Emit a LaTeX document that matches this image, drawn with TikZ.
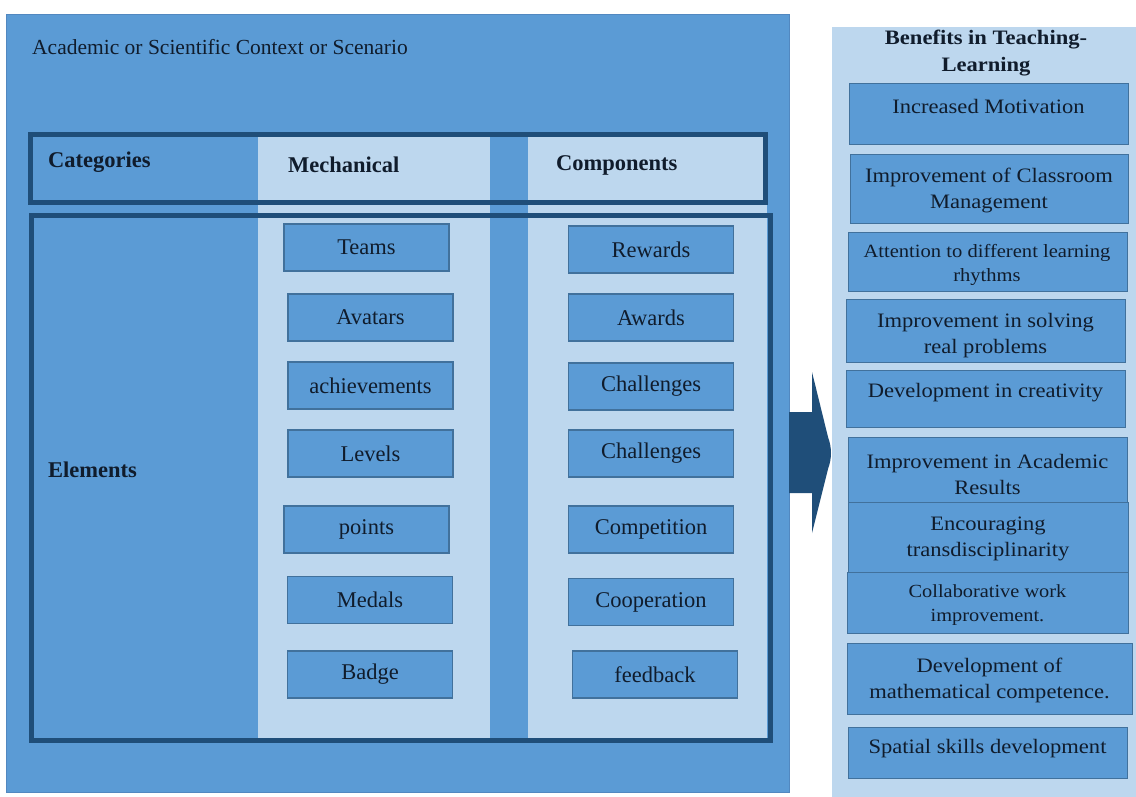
\documentclass[tikz,border=0pt]{standalone}
\usepackage{fontspec}
\setmainfont{Liberation Serif}
\newfontfamily\rfont{Liberation Serif}[FakeStretch=1.1]
\definecolor{mid}{HTML}{5B9BD5}
\definecolor{light}{HTML}{BDD7EE}
\definecolor{dark}{HTML}{1F4E79}
\definecolor{bbord}{HTML}{41719C}
\definecolor{mainbord}{HTML}{5288C0}
\definecolor{txt}{HTML}{101C2C}
\begin{document}
\begin{tikzpicture}[x=1pt,y=-1pt,
  lbox/.style={draw=bbord, line width=1.2pt, fill=mid, minimum width=165, minimum height=47, inner sep=0pt, text=txt, font=\fontsize{22.5}{26}\selectfont},
  rbox/.style={draw=bbord, line width=1.2pt, fill=mid, anchor=north west, inner sep=0pt},
  rtext/.style={text=txt, align=center, inner sep=0pt, font=\rfont\fontsize{20.5}{26}\selectfont},
  head/.style={text=txt, anchor=west, inner sep=0pt, font=\bfseries\fontsize{22.5}{26}\selectfont}]
\useasboundingbox (0,0) rectangle (1136,797);
\fill[white] (0,0) rectangle (1136,797);
% main context box
\node[draw=mainbord, fill=mid, anchor=north west, minimum width=783, minimum height=778, inner sep=0pt] (main) at (6,14) {};
\node[text=txt, anchor=west, inner sep=0pt, font=\fontsize{21.5}{24}\selectfont] (title) at (32,47) {Academic or Scientific Context or Scenario};
% light columns
\fill[light] (258,134) rectangle (490,739);
\fill[light] (528,134) rectangle (767,739);
% header and elements frames
\draw[dark, line width=5pt] (30.5,134.5) rectangle (765.5,202.5);
\draw[dark, line width=5pt] (31,215.5) rectangle (770,740);
\node[head] (cat) at (48,162) {Categories};
\node[head] (mech) at (288,165) {Mechanical};
\node[head] (comp) at (556,165) {Components};
\node[head] (elem) at (48,470) {Elements};
% mechanical boxes
\node[lbox] (teams) at (366.5,247.5) {Teams};
\node[lbox] (avatars) at (370.5,317.5) {Avatars};
\node[lbox] (achiev) at (370.5,385.5) {achievements};
\node[lbox] (levels) at (370.5,453.5) {Levels};
\node[lbox] (points) at (366.5,529.5) {points};
\node[lbox] (medals) at (370,600) {Medals};
\node[lbox] (badge) at (370,674.5) {Badge};
% component boxes
\node[lbox] (rewards) at (651,249.5) {Rewards};
\node[lbox] (awards) at (651,317.5) {Awards};
\node[lbox] (chal1) at (651,386.5) {Challenges};
\node[lbox] (chal2) at (651,453.5) {Challenges};
\node[lbox] (compet) at (651,529.5) {Competition};
\node[lbox] (coop) at (651,602) {Cooperation};
\node[lbox] (feedb) at (655,674.5) {feedback};
% right panel
\node[fill=light, anchor=north west, minimum width=304, minimum height=770, inner sep=0pt] (panel) at (832,27) {};
\node[rtext, font=\rfont\bfseries\fontsize{20.5}{27}\selectfont] (ptitle) at (986,53) {Benefits in Teaching-\\Learning};
\node[rbox, minimum width=279, minimum height=61] (b1) at (849,83) {};
\node[rtext] (b1t) at (988.5,106) {Increased Motivation};
\node[rbox, minimum width=278, minimum height=69] (b2) at (850,154) {};
\node[rtext] (b2t) at (989,190) {Improvement of Classroom\\Management};
\node[rbox, minimum width=279, minimum height=59] (b3) at (848,232) {};
\node[rtext, font=\rfont\fontsize{18.7}{24}\selectfont] (b3t) at (987,265) {Attention to different learning\\rhythms};
\node[rbox, minimum width=279, minimum height=63] (b4) at (846,299) {};
\node[rtext] (b4t) at (985.5,336) {Improvement in solving\\real problems};
\node[rbox, minimum width=279, minimum height=57] (b5) at (846,370) {};
\node[rtext] (b5t) at (985.5,393) {Development in creativity};
\node[rbox, minimum width=279, minimum height=65] (b6) at (848,437) {};
\node[rtext] (b6t) at (987.5,474) {Improvement in Academic\\Results};
\node[rbox, minimum width=280, minimum height=70] (b7) at (848,502) {};
\node[rtext] (b7t) at (988,539) {Encouraging\\transdisciplinarity};
\node[rbox, minimum width=281, minimum height=61] (b8) at (847,572) {};
\node[rtext, font=\rfont\fontsize{18.5}{24}\selectfont] (b8t) at (987.5,605) {Collaborative work\\improvement.};
\node[rbox, minimum width=285, minimum height=71] (b9) at (847,643) {};
\node[rtext] (b9t) at (989.5,680) {Development of\\mathematical competence.};
\node[rbox, minimum width=279, minimum height=51] (b10) at (848,727) {};
\node[rtext] (b10t) at (987.5,749) {Spatial skills development};
% arrow
\fill[dark] (789,412) -- (812,412) -- (812,372) -- (828,437)
  .. controls (832,448) and (832,458) .. (828,469) -- (812,533) -- (812,493) -- (789,493) -- cycle;
\end{tikzpicture}
\end{document}
